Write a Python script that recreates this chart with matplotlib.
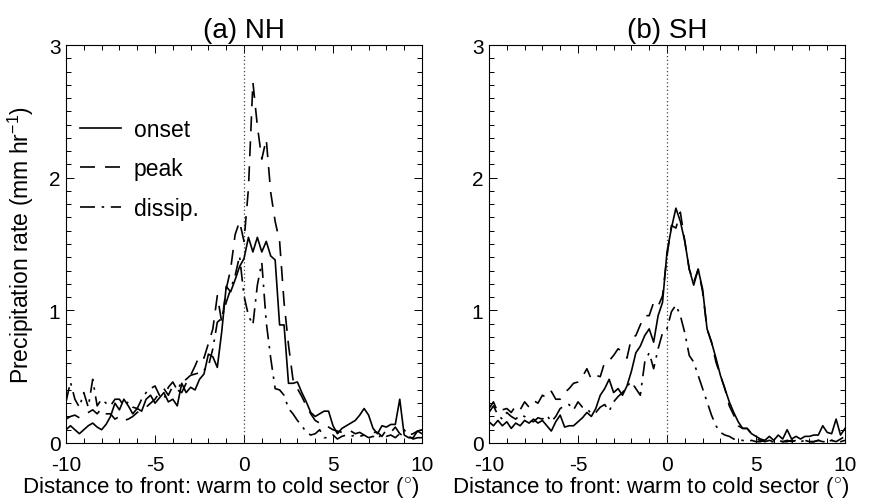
import numpy as np
import matplotlib
matplotlib.use("Agg")
import matplotlib.pyplot as plt
from matplotlib.ticker import MultipleLocator

plt.rcParams['font.family'] = ['Liberation Sans', 'DejaVu Sans']
plt.rcParams['mathtext.fontset'] = 'custom'
plt.rcParams['mathtext.rm'] = 'Liberation Sans'
plt.rcParams['axes.unicode_minus'] = False

x = np.arange(-10, 10.001, 0.25)

nh_onset = [0.10, 0.13, 0.10, 0.07, 0.10, 0.13, 0.15, 0.12, 0.10, 0.14, 0.20, 0.30, 0.25, 0.33, 0.28, 0.22,
            0.26, 0.24, 0.33, 0.36, 0.30, 0.34, 0.38, 0.31, 0.33, 0.28, 0.45, 0.38, 0.42, 0.40, 0.48, 0.52,
            0.67, 0.65, 0.57, 0.84, 1.18, 1.14, 1.23, 1.33, 1.39, 1.55, 1.44, 1.55, 1.44, 1.52, 1.41, 1.38,
            0.89, 0.89, 0.45, 0.45, 0.46, 0.38, 0.31, 0.23, 0.20, 0.22, 0.24, 0.24, 0.13, 0.07, 0.11, 0.13,
            0.15, 0.17, 0.21, 0.26, 0.21, 0.11, 0.07, 0.13, 0.12, 0.14, 0.14, 0.33, 0.06, 0.04, 0.04, 0.09, 0.07]
nh_peak = [0.18, 0.20, 0.21, 0.19, 0.21, 0.23, 0.25, 0.22, 0.26, 0.22, 0.22, 0.18, 0.20, 0.17, 0.18, 0.20,
           0.23, 0.25, 0.27, 0.30, 0.33, 0.38, 0.41, 0.36, 0.43, 0.40, 0.38, 0.45, 0.51, 0.58, 0.66, 0.64,
           0.75, 0.86, 1.11, 0.91, 1.16, 1.31, 1.57, 1.67, 1.52, 1.92, 2.72, 2.39, 2.14, 2.29, 1.89, 1.67,
           1.52, 1.06, 0.74, 0.48, 0.41, 0.35, 0.28, 0.22, 0.17, 0.15, 0.13, 0.12, 0.10, 0.09, 0.08, 0.07,
           0.09, 0.07, 0.08, 0.06, 0.07, 0.08, 0.08, 0.05, 0.10, 0.08, 0.12, 0.07, 0.05, 0.06, 0.07, 0.09, 0.10]
nh_dissip = [0.31, 0.46, 0.33, 0.27, 0.38, 0.27, 0.48, 0.28, 0.33, 0.30, 0.28, 0.33, 0.33, 0.28, 0.31, 0.27,
             0.26, 0.33, 0.38, 0.41, 0.43, 0.36, 0.33, 0.42, 0.46, 0.40, 0.46, 0.48, 0.51, 0.52, 0.53, 0.55,
             0.58, 0.71, 0.91, 0.94, 1.06, 1.16, 1.26, 1.41, 1.11, 0.96, 0.89, 1.19, 1.36, 0.91, 0.64, 0.41,
             0.40, 0.36, 0.26, 0.22, 0.17, 0.13, 0.08, 0.06, 0.07, 0.10, 0.04, 0.04, 0.06, 0.03, 0.05, 0.06,
             0.05, 0.06, 0.05, 0.06, 0.04, 0.05, 0.03, 0.07, 0.05, 0.06, 0.04, 0.07, 0.10, 0.05, 0.03, 0.04, 0.04]

sh_onset = [0.16, 0.13, 0.17, 0.13, 0.16, 0.11, 0.15, 0.13, 0.17, 0.15, 0.18, 0.15, 0.17, 0.13, 0.09, 0.16,
            0.21, 0.12, 0.13, 0.13, 0.16, 0.19, 0.23, 0.20, 0.26, 0.36, 0.41, 0.48, 0.38, 0.41, 0.36, 0.43,
            0.54, 0.68, 0.73, 0.81, 0.86, 0.76, 0.96, 1.06, 1.44, 1.62, 1.77, 1.67, 1.52, 1.31, 1.19, 1.31,
            1.16, 0.86, 0.76, 0.64, 0.51, 0.41, 0.31, 0.23, 0.16, 0.11, 0.11, 0.07, 0.05, 0.03, 0.02, 0.05,
            0.02, 0.06, 0.03, 0.10, 0.03, 0.05, 0.03, 0.05, 0.05, 0.06, 0.06, 0.13, 0.08, 0.07, 0.18, 0.06, 0.11]
sh_peak = [0.26, 0.31, 0.23, 0.25, 0.26, 0.23, 0.28, 0.25, 0.31, 0.27, 0.32, 0.30, 0.36, 0.34, 0.39, 0.33,
           0.33, 0.38, 0.41, 0.45, 0.46, 0.50, 0.56, 0.48, 0.51, 0.50, 0.61, 0.62, 0.66, 0.71, 0.69, 0.64,
           0.79, 0.81, 0.89, 0.96, 0.96, 1.06, 1.03, 1.11, 1.41, 1.64, 1.62, 1.74, 1.52, 1.31, 1.21, 1.31,
           1.14, 0.86, 0.76, 0.61, 0.51, 0.41, 0.28, 0.21, 0.13, 0.11, 0.11, 0.07, 0.03, 0.02, 0.01, 0.02,
           0.01, 0.02, 0.01, 0.02, 0.01, 0.02, 0.01, 0.02, 0.01, 0.01, 0.02, 0.01, 0.01, 0.02, 0.01, 0.03, 0.05]
sh_dissip = [0.23, 0.28, 0.21, 0.18, 0.23, 0.20, 0.18, 0.21, 0.20, 0.17, 0.16, 0.19, 0.18, 0.21, 0.16, 0.20,
             0.26, 0.28, 0.29, 0.25, 0.31, 0.27, 0.26, 0.22, 0.23, 0.27, 0.29, 0.24, 0.31, 0.35, 0.38, 0.43,
             0.46, 0.41, 0.36, 0.61, 0.68, 0.56, 0.71, 0.83, 0.86, 0.99, 1.04, 0.96, 0.83, 0.66, 0.61, 0.51,
             0.41, 0.31, 0.21, 0.13, 0.08, 0.06, 0.05, 0.03, 0.02, 0.02, 0.01, 0.02, 0.01, 0.01, 0.02, 0.01,
             0.01, 0.02, 0.01, 0.01, 0.02, 0.01, 0.01, 0.02, 0.01, 0.01, 0.02, 0.01, 0.01, 0.02, 0.01, 0.01, 0.02]

titles = ["(a) NH", "(b) SH"]
xticks = [-10, -5, 0, 5, 10]
yticks = [0, 1, 2, 3]
xlabel = "Distance to front: warm to cold sector ($^{\\circ}$)"
ylabel = "Precipitation rate (mm hr$^{-1}$)"
labels = ["onset", "peak", "dissip."]

fig = plt.figure(figsize=(8.72, 5.02), dpi=100)
W, H = 872, 502
axes = [fig.add_axes([66 / W, 1 - 444 / H, 356 / W, 398 / H]),
        fig.add_axes([489 / W, 1 - 444 / H, 356 / W, 398 / H])]
xlabel_x = [0.436, 0.455]

lw = 1.2
styles = [dict(linestyle='-'), dict(dashes=(9, 6)), dict(dashes=(9, 4, 1.5, 4))]
data = [(nh_onset, nh_peak, nh_dissip), (sh_onset, sh_peak, sh_dissip)]

for ax, title, series, lx in zip(axes, titles, data, xlabel_x):
    ax.axvline(0, color='#444444', lw=0.9, linestyle=(0, (1, 2)))
    for s, st, lab in zip(series, styles, labels):
        ax.plot(x, s, color='black', lw=lw, label=lab, **st)
    ax.set_xlim(-10, 10)
    ax.set_ylim(0, 3)
    ax.set_xticks(xticks)
    ax.set_yticks(yticks)
    ax.xaxis.set_minor_locator(MultipleLocator(1))
    ax.yaxis.set_minor_locator(MultipleLocator(0.1))
    ax.tick_params(which='both', direction='in', top=True, right=True, labelsize=15, width=0.7)
    ax.tick_params(which='major', length=6)
    ax.tick_params(which='minor', length=3.5)
    ax.tick_params(axis='x', pad=9)
    ax.tick_params(axis='y', pad=4)
    for sp in ax.spines.values():
        sp.set_linewidth(0.8)
    ax.set_title(title, fontsize=20, pad=6)
    ax.set_xlabel(xlabel, fontsize=16)
    ax.xaxis.set_label_coords(lx, (444 - 475) / 398)

axes[0].set_ylabel(ylabel, fontsize=16.5, labelpad=9)
axes[0].legend(loc='upper left', bbox_to_anchor=(0.0, 0.852), frameon=False, fontsize=16.5,
               handlelength=1.8, handletextpad=0.55, labelspacing=0.72, borderaxespad=0.2)

fig.savefig("out.png", dpi=100)
